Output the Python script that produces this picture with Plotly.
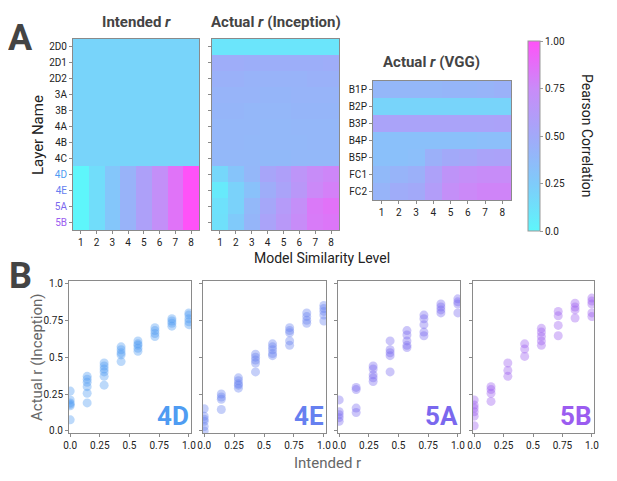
import plotly.graph_objects as go

# ---------------------------------------------------------------
# data
levels = [1, 2, 3, 4, 5, 6, 7, 8]
inc_layers = ['2D0', '2D1', '2D2', '3A', '3B', '4A', '4B', '4C', '4D', '4E', '5A', '5B']
vgg_layers = ['B1P', 'B2P', 'B3P', 'B4P', 'B5P', 'FC1', 'FC2']

intended_r = [
    [0.2, 0.2, 0.2, 0.2, 0.2, 0.2, 0.2, 0.2],
    [0.2, 0.2, 0.2, 0.2, 0.2, 0.2, 0.2, 0.2],
    [0.2, 0.2, 0.2, 0.2, 0.2, 0.2, 0.2, 0.2],
    [0.2, 0.2, 0.2, 0.2, 0.2, 0.2, 0.2, 0.2],
    [0.2, 0.2, 0.2, 0.2, 0.2, 0.2, 0.2, 0.2],
    [0.2, 0.2, 0.2, 0.2, 0.2, 0.2, 0.2, 0.2],
    [0.2, 0.2, 0.2, 0.2, 0.2, 0.2, 0.2, 0.2],
    [0.2, 0.2, 0.2, 0.2, 0.2, 0.2, 0.2, 0.2],
    [0.0, 0.143, 0.286, 0.429, 0.571, 0.714, 0.857, 1.0],
    [0.0, 0.143, 0.286, 0.429, 0.571, 0.714, 0.857, 1.0],
    [0.0, 0.143, 0.286, 0.429, 0.571, 0.714, 0.857, 1.0],
    [0.0, 0.143, 0.286, 0.429, 0.571, 0.714, 0.857, 1.0],
]

actual_inception = [
    [0.10, 0.10, 0.10, 0.10, 0.10, 0.10, 0.10, 0.10],
    [0.47, 0.47, 0.46, 0.46, 0.46, 0.46, 0.46, 0.47],
    [0.44, 0.44, 0.43, 0.43, 0.43, 0.43, 0.44, 0.44],
    [0.42, 0.42, 0.42, 0.41, 0.41, 0.42, 0.42, 0.42],
    [0.41, 0.41, 0.40, 0.40, 0.40, 0.41, 0.41, 0.41],
    [0.40, 0.40, 0.40, 0.39, 0.39, 0.40, 0.40, 0.40],
    [0.40, 0.40, 0.39, 0.39, 0.39, 0.39, 0.40, 0.40],
    [0.39, 0.39, 0.39, 0.38, 0.38, 0.39, 0.39, 0.39],
    [0.18, 0.30, 0.40, 0.53, 0.58, 0.67, 0.74, 0.77],
    [0.07, 0.21, 0.32, 0.47, 0.55, 0.65, 0.76, 0.80],
    [0.12, 0.21, 0.39, 0.52, 0.62, 0.72, 0.83, 0.86],
    [0.13, 0.26, 0.41, 0.55, 0.64, 0.74, 0.82, 0.84],
]

actual_vgg = [
    [0.40, 0.40, 0.40, 0.40, 0.41, 0.41, 0.42, 0.44],
    [0.20, 0.20, 0.20, 0.20, 0.20, 0.20, 0.20, 0.20],
    [0.55, 0.55, 0.55, 0.55, 0.55, 0.55, 0.55, 0.56],
    [0.33, 0.33, 0.33, 0.33, 0.33, 0.33, 0.34, 0.34],
    [0.33, 0.33, 0.34, 0.45, 0.50, 0.52, 0.55, 0.56],
    [0.38, 0.42, 0.45, 0.57, 0.68, 0.72, 0.74, 0.74],
    [0.42, 0.48, 0.50, 0.60, 0.72, 0.76, 0.78, 0.78],
]

# scatter: intended r (x) vs actual r (y), per layer
sc_layers = ['4D', '4E', '5A', '5B']
sc_colors = ['#4F9CF2', '#6680F0', '#7A68EE', '#9B5CF0']
sc_x = {
    '4D': [0]*6 + [0.143]*6 + [0.286]*6 + [0.429]*5 + [0.571]*5 + [0.714]*4 + [0.857]*4 + [1.0]*5,
    '4E': [0]*6 + [0.143]*4 + [0.286]*5 + [0.429]*5 + [0.571]*5 + [0.714]*5 + [0.857]*4 + [1.0]*5,
    '5A': [0]*5 + [0.143]*4 + [0.286]*5 + [0.429]*5 + [0.571]*5 + [0.714]*5 + [0.857]*4 + [1.0]*4,
    '5B': [0]*6 + [0.143]*4 + [0.286]*3 + [0.429]*3 + [0.571]*5 + [0.714]*4 + [0.857]*4 + [1.0]*5,
}
sc_y = {
    '4D': [0.27, 0.21, 0.19, 0.18, 0.17, 0.075,
           0.37, 0.35, 0.33, 0.30, 0.255, 0.19,
           0.46, 0.44, 0.42, 0.40, 0.37, 0.31,
           0.57, 0.55, 0.53, 0.515, 0.47,
           0.61, 0.59, 0.58, 0.56, 0.54,
           0.70, 0.68, 0.66, 0.64,
           0.76, 0.745, 0.73, 0.71,
           0.80, 0.785, 0.76, 0.74, 0.72],
    '4E': [0.15, 0.10, 0.08, 0.065, 0.03, 0.0,
           0.25, 0.23, 0.215, 0.145,
           0.36, 0.34, 0.32, 0.31, 0.29,
           0.52, 0.50, 0.48, 0.46, 0.40,
           0.59, 0.57, 0.55, 0.525, 0.51,
           0.70, 0.68, 0.665, 0.61, 0.58,
           0.80, 0.775, 0.75, 0.73,
           0.85, 0.83, 0.81, 0.785, 0.745],
    '5A': [0.21, 0.13, 0.11, 0.09, 0.065,
           0.295, 0.28, 0.155, 0.125,
           0.44, 0.42, 0.38, 0.36, 0.335,
           0.61, 0.55, 0.53, 0.51, 0.40,
           0.68, 0.65, 0.61, 0.58, 0.565,
           0.785, 0.76, 0.72, 0.67, 0.645,
           0.86, 0.84, 0.82, 0.80,
           0.895, 0.875, 0.86, 0.80],
    '5B': [0.21, 0.175, 0.155, 0.13, 0.10, 0.035,
           0.30, 0.28, 0.255, 0.20,
           0.46, 0.41, 0.37,
           0.59, 0.555, 0.505,
           0.695, 0.67, 0.64, 0.61, 0.58,
           0.81, 0.78, 0.715, 0.645,
           0.865, 0.84, 0.82, 0.765,
           0.90, 0.88, 0.86, 0.80, 0.775],
}

# ---------------------------------------------------------------
# the page body keeps its default 8px margin, so lay out in a 609x473 box
OFF = 8
W, H = 617 - OFF, 481 - OFF
FONT = 'Roboto, Liberation Sans, sans-serif'
cscale = [[0, '#5EF6FB'], [0.25, '#7FCBFA'], [0.5, '#A2A9F9'], [0.75, '#C98BF8'], [1, '#FF52F8']]


def fx(px):
    return (px - OFF) / W


def fy(py):
    return 1 - (py - OFF) / H


def px_x(a, b):
    return [fx(a), fx(b)]


def px_y(top, bot):
    return [fy(bot), fy(top)]


fig = go.Figure()

fig.add_trace(go.Heatmap(z=intended_r, x=levels, y=inc_layers, coloraxis='coloraxis',
                         xaxis='x', yaxis='y'))
fig.add_trace(go.Heatmap(z=actual_inception, x=levels, y=inc_layers, coloraxis='coloraxis',
                         xaxis='x2', yaxis='y2'))
fig.add_trace(go.Heatmap(z=actual_vgg, x=levels, y=vgg_layers, coloraxis='coloraxis',
                         xaxis='x3', yaxis='y3'))

for i, lay in enumerate(sc_layers):
    fig.add_trace(go.Scatter(x=sc_x[lay], y=sc_y[lay], mode='markers',
                             marker=dict(size=9, color=sc_colors[i], opacity=0.38, line=dict(width=0)),
                             xaxis='x%d' % (i + 4), yaxis='y%d' % (i + 4), showlegend=False))

lab_col = {'4D': sc_colors[0], '4E': sc_colors[1], '5A': sc_colors[2], '5B': sc_colors[3]}
inc_ticktext = ['<span style="color:%s">%s</span>' % (lab_col[l], l) if l in lab_col else l
                for l in inc_layers]

ax_common = dict(showline=True, mirror=True, linecolor='#8a8a8a', linewidth=1, ticks='outside',
                 ticklen=3, tickcolor='#8a8a8a', showgrid=False, zeroline=False,
                 tickfont=dict(family=FONT, size=10, color='#222'))

hm_top, hm_bot = 39, 230
layout = dict(
    width=W, height=H, margin=dict(l=0, r=0, t=0, b=0, autoexpand=False),
    plot_bgcolor='white', paper_bgcolor='white', showlegend=False,
    font=dict(family=FONT),
    coloraxis=dict(cmin=0, cmax=1, colorscale=cscale,
                   colorbar=dict(x=fx(528), xanchor='left', y=fy(41), yanchor='top',
                                 len=190 / H, thickness=12, outlinecolor='#999', outlinewidth=1,
                                 tickvals=[0, 0.25, 0.5, 0.75, 1],
                                 ticktext=['0.0', '0.25', '0.50', '0.75', '1.00'],
                                 ticks='outside', ticklen=3, tickcolor='#999',
                                 xpad=0, ypad=0,
                                 tickfont=dict(family=FONT, size=10, color='#222'))),
    xaxis=dict(ax_common, domain=px_x(73, 199), anchor='y', tickvals=levels),
    yaxis=dict(ax_common, domain=px_y(hm_top, hm_bot), anchor='x', autorange='reversed',
               tickvals=inc_layers, ticktext=inc_ticktext),
    xaxis2=dict(ax_common, domain=px_x(212, 339), anchor='y2', tickvals=levels),
    yaxis2=dict(ax_common, domain=px_y(hm_top, hm_bot), anchor='x2', autorange='reversed',
                showticklabels=False),
    xaxis3=dict(ax_common, domain=px_x(373, 511), anchor='y3', tickvals=levels),
    yaxis3=dict(ax_common, domain=px_y(81, 200), anchor='x3', autorange='reversed'),
)

sc_dom = [(69, 191), (203, 326), (338, 460), (473, 594)]
for i, (a, b) in enumerate(sc_dom):
    n = i + 4
    layout['xaxis%d' % n] = dict(ax_common, domain=px_x(a, b), anchor='y%d' % n,
                                 range=[-0.01, 1.018], tickvals=[0, 0.25, 0.5, 0.75, 1],
                                 ticktext=['0.0', '0.25', '0.5', '0.75', '1.0'])
    layout['yaxis%d' % n] = dict(ax_common, domain=px_y(281, 433), anchor='x%d' % n,
                                 range=[-0.014, 1.016], tickvals=[0, 0.25, 0.5, 0.75, 1],
                                 ticktext=['0.0', '0.25', '0.5', '0.75', '1.0'],
                                 showticklabels=(i == 0))

fig.update_layout(layout)


def note(text, x, y, size, color='#222', angle=0, bold=False):
    if bold:
        text = '<b>%s</b>' % text
    fig.add_annotation(text=text, x=fx(x), y=fy(y), xref='paper', yref='paper',
                       xanchor='center', yanchor='middle', showarrow=False, textangle=angle,
                       font=dict(family=FONT, size=size, color=color))


note('A', 20, 38, 36, '#444', bold=True)
note('B', 20, 276, 36, '#444', bold=True)
note('Intended <i>r</i>', 136, 22, 15, '#444', bold=True)
note('Actual <i>r</i> (Inception)', 276, 22, 15, '#444', bold=True)
note('Actual <i>r</i> (VGG)', 431, 62, 15, '#444', bold=True)
note('Layer Name', 38, 135, 15, '#222', angle=-90)
note('Model Similarity Level', 322, 258, 14, '#222')
note('Pearson Correlation', 587, 136, 14, '#222', angle=90)
note('Actual r (Inception)', 37, 357, 15, '#666', angle=-90)
note('Intended r', 327, 463, 15, '#666')

for i, lay in enumerate(sc_layers):
    fig.add_annotation(text='<b>%s</b>' % lay, x=1.0, y=0.0, xref='x%d domain' % (i + 4),
                       yref='y%d domain' % (i + 4), xanchor='right', yanchor='bottom',
                       showarrow=False, font=dict(family=FONT, size=26, color=sc_colors[i]))

fig.write_html("out.html")
